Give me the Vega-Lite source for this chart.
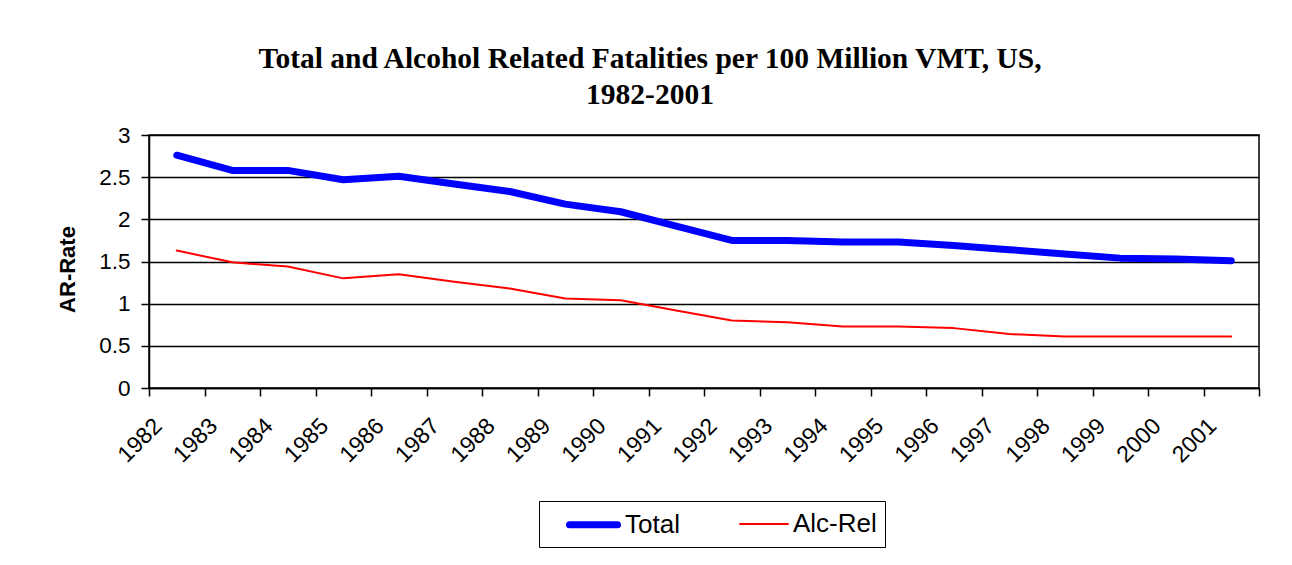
{
  "$schema": "https://vega.github.io/schema/vega-lite/v6.json",
  "autosize": "none",
  "width": 1110,
  "height": 253,
  "padding": {"left": 149, "top": 135, "right": 33, "bottom": 177},
  "background": "white",
  "title": {
    "text": ["Total and Alcohol Related Fatalities per 100 Million VMT, US,", "1982-2001"],
    "font": "Liberation Serif",
    "fontSize": 29.5,
    "fontWeight": "bold",
    "color": "black",
    "anchor": "middle",
    "frame": "group",
    "dx": -54,
    "lineHeight": 36,
    "offset": 14
  },
  "data": {
    "values": [
      {"year": "1982", "series": "Total", "rate": 2.76},
      {"year": "1983", "series": "Total", "rate": 2.58},
      {"year": "1984", "series": "Total", "rate": 2.58},
      {"year": "1985", "series": "Total", "rate": 2.47},
      {"year": "1986", "series": "Total", "rate": 2.51},
      {"year": "1987", "series": "Total", "rate": 2.42},
      {"year": "1988", "series": "Total", "rate": 2.33},
      {"year": "1989", "series": "Total", "rate": 2.18},
      {"year": "1990", "series": "Total", "rate": 2.09},
      {"year": "1991", "series": "Total", "rate": 1.92},
      {"year": "1992", "series": "Total", "rate": 1.75},
      {"year": "1993", "series": "Total", "rate": 1.75},
      {"year": "1994", "series": "Total", "rate": 1.73},
      {"year": "1995", "series": "Total", "rate": 1.73},
      {"year": "1996", "series": "Total", "rate": 1.69},
      {"year": "1997", "series": "Total", "rate": 1.64},
      {"year": "1998", "series": "Total", "rate": 1.59},
      {"year": "1999", "series": "Total", "rate": 1.54},
      {"year": "2000", "series": "Total", "rate": 1.53},
      {"year": "2001", "series": "Total", "rate": 1.51},
      {"year": "1982", "series": "Alc-Rel", "rate": 1.63},
      {"year": "1983", "series": "Alc-Rel", "rate": 1.49},
      {"year": "1984", "series": "Alc-Rel", "rate": 1.44},
      {"year": "1985", "series": "Alc-Rel", "rate": 1.30},
      {"year": "1986", "series": "Alc-Rel", "rate": 1.35},
      {"year": "1987", "series": "Alc-Rel", "rate": 1.26},
      {"year": "1988", "series": "Alc-Rel", "rate": 1.18},
      {"year": "1989", "series": "Alc-Rel", "rate": 1.06},
      {"year": "1990", "series": "Alc-Rel", "rate": 1.04},
      {"year": "1991", "series": "Alc-Rel", "rate": 0.92},
      {"year": "1992", "series": "Alc-Rel", "rate": 0.80},
      {"year": "1993", "series": "Alc-Rel", "rate": 0.78},
      {"year": "1994", "series": "Alc-Rel", "rate": 0.73},
      {"year": "1995", "series": "Alc-Rel", "rate": 0.73},
      {"year": "1996", "series": "Alc-Rel", "rate": 0.71},
      {"year": "1997", "series": "Alc-Rel", "rate": 0.64},
      {"year": "1998", "series": "Alc-Rel", "rate": 0.61},
      {"year": "1999", "series": "Alc-Rel", "rate": 0.61},
      {"year": "2000", "series": "Alc-Rel", "rate": 0.61},
      {"year": "2001", "series": "Alc-Rel", "rate": 0.61}
    ]
  },
  "mark": {"type": "line", "strokeCap": "round", "strokeJoin": "round"},
  "encoding": {
    "x": {
      "field": "year",
      "type": "ordinal",
      "scale": {"type": "band", "paddingInner": 0, "paddingOuter": 0},
      "axis": {
        "title": null,
        "tickBand": "extent",
        "labelAngle": -45,
        "labelAlign": "right",
        "labelBaseline": "middle",
        "labelOffset": -19,
        "labelPadding": 26,
        "labelFont": "Liberation Sans",
        "labelFontSize": 23,
        "labelColor": "black",
        "tickSize": 8,
        "tickColor": "black",
        "tickWidth": 1.5,
        "domainColor": "black",
        "domainWidth": 1.5,
        "grid": false
      }
    },
    "y": {
      "field": "rate",
      "type": "quantitative",
      "scale": {"domain": [0, 3], "nice": false, "zero": true},
      "axis": {
        "title": "AR-Rate",
        "titleFont": "Liberation Sans",
        "titleFontSize": 22,
        "titleFontWeight": "bold",
        "titleColor": "black",
        "titlePadding": 19,
        "titleY": 134,
        "values": [0, 0.5, 1, 1.5, 2, 2.5, 3],
        "format": "~g",
        "labelFont": "Liberation Sans",
        "labelFontSize": 22.5,
        "labelColor": "black",
        "labelPadding": 11,
        "tickSize": 8,
        "tickColor": "black",
        "tickWidth": 1.5,
        "domainColor": "black",
        "domainWidth": 1.5,
        "grid": true,
        "gridColor": "black",
        "gridWidth": 1.5,
        "gridOpacity": 1
      }
    },
    "color": {
      "field": "series",
      "type": "nominal",
      "scale": {"domain": ["Total", "Alc-Rel"], "range": ["#0000ff", "#ff0000"]},
      "legend": {
        "title": null,
        "orient": "none",
        "legendX": 390,
        "legendY": 366,
        "direction": "horizontal",
        "strokeColor": "black",
        "padding": 8,
        "symbolType": "M-2,0L2,0",
        "symbolSize": 576,
        "symbolOffset": 31,
        "columnPadding": 40,
        "labelFont": "Liberation Sans",
        "labelFontSize": 26,
        "labelColor": "black",
        "labelOffset": 16,
        "encode": {"symbols": {"update": {"strokeCap": {"value": "round"}}}}
      }
    },
    "strokeWidth": {
      "field": "series",
      "type": "nominal",
      "scale": {"domain": ["Total", "Alc-Rel"], "range": [7, 2]},
      "legend": {
        "title": null,
        "orient": "none",
        "legendX": 390,
        "legendY": 366,
        "direction": "horizontal",
        "strokeColor": "black",
        "padding": 8,
        "symbolType": "M-2,0L2,0",
        "symbolSize": 576,
        "symbolOffset": 31,
        "columnPadding": 40,
        "labelFont": "Liberation Sans",
        "labelFontSize": 26,
        "labelColor": "black",
        "labelOffset": 16,
        "encode": {"symbols": {"update": {"strokeCap": {"value": "round"}}}}
      }
    }
  },
  "config": {
    "view": {"stroke": "black", "strokeWidth": 1.5},
    "legend": {"symbolStrokeColor": null}
  }
}
